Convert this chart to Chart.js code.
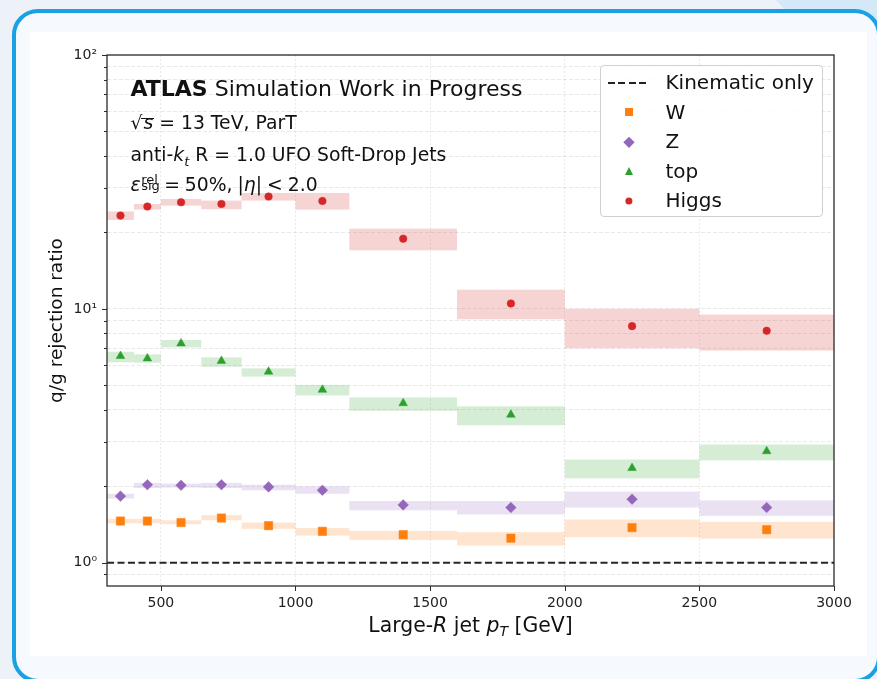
<!DOCTYPE html>
<html>
<head>
<meta charset="utf-8">
<script src="https://cdn.jsdelivr.net/npm/chart.js@4.4.1/dist/chart.umd.min.js"></script>
<style>
html,body{margin:0;padding:0;width:877px;height:679px;overflow:hidden;background:#edf2f8;font-family:"DejaVu Sans",sans-serif;}
#deco{position:absolute;left:0;top:0;width:877px;height:40px;background:#d4e9f8;clip-path:polygon(776px 0,877px 0,877px 40px,812px 40px);}
#frame{position:absolute;left:12px;top:9px;width:869px;height:674px;box-sizing:border-box;border:4px solid #1ba1e2;border-radius:26px;background:#f6f9fd;}
#chart{position:absolute;left:30px;top:32px;background:#fff;}
.txt{position:absolute;color:#111;white-space:nowrap;}
.l1{left:130.5px;top:75.6px;font-size:22px;line-height:25.6px;}
.l2,.l3,.l4{left:130.5px;font-size:18.8px;line-height:21.9px;}
.l2{top:111.85px}.l3{top:144.25px}.l4{top:174.25px;word-spacing:-1px;}
.ov{font-style:italic;position:relative;padding-left:1px;}
.ov::before{content:'';position:absolute;left:-1px;right:-1px;top:6px;border-top:1.3px solid #111;}
.subt{position:relative;font-size:13px;top:4.5px;font-style:italic;}
.ss{display:inline-block;position:relative;width:18.5px;height:1px;}
.ss span{position:absolute;left:0.5px;font-size:13px;line-height:13px;}
.ss .sp{bottom:5.5px}.ss .sb{bottom:-0.5px}
#xtitle{left:107px;width:727px;text-align:center;top:613.8px;font-size:20.4px;line-height:23.7px;}
#xtitle sub{font-size:14px;position:relative;vertical-align:baseline;top:4px;font-style:italic;}
#legend{position:absolute;left:599.5px;top:65px;width:223px;height:152px;box-sizing:border-box;border:1px solid #d0d0d0;border-radius:4px;background:rgba(255,255,255,0.85);}
.lrow{position:absolute;left:0;width:100%;height:29.6px;}
.ltext{position:absolute;left:65px;top:0;font-size:20px;line-height:29.6px;color:#111;white-space:nowrap;}
.lmark{position:absolute;left:28px;top:14.8px;transform:translate(-50%,-50%);}
.ldash{position:absolute;left:7px;width:41px;top:14px;height:2px;background:repeating-linear-gradient(to right,#222 0 7px,transparent 7px 10.5px);}
</style>
</head>
<body>
<div id="deco"></div>
<div id="frame"></div>
<canvas id="chart" width="837" height="624"></canvas>

<div class="txt l1"><b>ATLAS</b> Simulation Work in Progress</div>
<div class="txt l2">√<span class="ov">s</span> = 13 TeV, ParT</div>
<div class="txt l3">anti-<i>k</i><span class="subt">t</span> R = 1.0 UFO Soft-Drop Jets</div>
<div class="txt l4"><i>ε</i><span class="ss"><span class="sp">rel</span><span class="sb">sig</span></span> = 50%, |<i>η</i>| &lt; 2.0</div>
<div class="txt" id="xtitle">Large-<i>R</i> jet <i>p</i><sub>T</sub> [GeV]</div>
<div id="legend"></div>

<script>
// ---- Data ----
const binLow    = [300, 400, 500, 650, 800, 1000, 1200, 1600, 2000, 2500];
const binHigh   = [400, 500, 650, 800, 1000, 1200, 1600, 2000, 2500, 3000];
const binCenter = [350, 450, 575, 725, 900, 1100, 1400, 1800, 2250, 2750];

const wValues = [1.46, 1.46, 1.44, 1.50, 1.40, 1.33, 1.29, 1.25, 1.375, 1.35];
const wLow    = [1.43, 1.43, 1.42, 1.47, 1.36, 1.28, 1.23, 1.17, 1.26, 1.245];
const wHigh   = [1.49, 1.49, 1.47, 1.54, 1.44, 1.37, 1.335, 1.32, 1.48, 1.45];

const zValues = [1.83, 2.03, 2.02, 2.03, 1.99, 1.93, 1.69, 1.65, 1.78, 1.65];
const zLow    = [1.79, 1.97, 1.98, 1.97, 1.93, 1.87, 1.61, 1.55, 1.65, 1.53];
const zHigh   = [1.87, 2.065, 2.05, 2.065, 2.03, 2.00, 1.75, 1.75, 1.905, 1.76];

const topValues = [6.52, 6.38, 7.31, 6.24, 5.66, 4.80, 4.25, 3.83, 2.36, 2.75];
const topLow    = [6.16, 6.14, 7.05, 5.92, 5.41, 4.56, 3.97, 3.48, 2.15, 2.53];
const topHigh   = [6.78, 6.62, 7.54, 6.44, 5.83, 5.02, 4.48, 4.13, 2.55, 2.92];

const higgsValues = [23.3, 25.3, 26.3, 25.9, 27.7, 26.6, 18.9, 10.5, 8.55, 8.2];
const higgsLow    = [22.4, 24.6, 25.5, 24.7, 26.7, 24.6, 17.0, 9.1, 7.0, 6.85];
const higgsHigh   = [24.2, 25.9, 27.1, 26.7, 28.6, 28.6, 20.7, 11.9, 10.0, 9.5];

const kinematicX = [300, 3000];
const kinematicY = [1, 1];
const kinematicLabel = 'Kinematic only';

const xTickValues = [500, 1000, 1500, 2000, 2500, 3000];
const yMajorTicks = [1, 10, 100];
const yTickLabels = ['10⁰', '10¹', '10²'];
const yMinorTicks = [0.9, 2, 3, 4, 5, 6, 7, 8, 9, 20, 30, 40, 50, 60, 70, 80, 90];

const seriesNames  = ['W', 'Z', 'top', 'Higgs'];
const seriesColors = ['#ff7f0e', '#9467bd', '#2ca02c', '#d62728'];

// ---- Build ----
const series = [
  {name: seriesNames[0], color: seriesColors[0], values: wValues, low: wLow, high: wHigh, style: 'rect', radius: 5.9},
  {name: seriesNames[1], color: seriesColors[1], values: zValues, low: zLow, high: zHigh, style: 'rectRot', radius: 5.3},
  {name: seriesNames[2], color: seriesColors[2], values: topValues, low: topLow, high: topHigh, style: 'triangle', radius: 5.0},
  {name: seriesNames[3], color: seriesColors[3], values: higgsValues, low: higgsLow, high: higgsHigh, style: 'circle', radius: 3.8}
];

function rgba(hex, a) {
  const n = parseInt(hex.slice(1), 16);
  return `rgba(${(n >> 16) & 255},${(n >> 8) & 255},${n & 255},${a})`;
}

const bandPlugin = {
  id: 'bands',
  beforeDatasetsDraw(chart) {
    const {ctx, chartArea: a, scales: {x, y}} = chart;
    ctx.save();
    ctx.beginPath();
    ctx.rect(a.left, a.top, a.right - a.left, a.bottom - a.top);
    ctx.clip();
    series.forEach(s => {
      ctx.fillStyle = rgba(s.color, 0.2);
      s.low.forEach((lo, i) => {
        const x0 = x.getPixelForValue(binLow[i]);
        const x1 = x.getPixelForValue(binHigh[i]);
        const y0 = y.getPixelForValue(s.high[i]);
        const y1 = y.getPixelForValue(lo);
        ctx.fillRect(x0, y0, x1 - x0, y1 - y0);
      });
    });
    ctx.restore();
  }
};

const framePlugin = {
  id: 'frameTicks',
  afterDatasetsDraw(chart) {
    const {ctx, chartArea: a, scales: {x, y}} = chart;
    ctx.save();
    ctx.strokeStyle = '#2b2b2b';
    ctx.lineWidth = 1;
    ctx.beginPath();
    y.ticks.forEach(t => {
      const py = Math.round(y.getPixelForValue(t.value)) + 0.5;
      const len = yMajorTicks.includes(t.value) ? 5 : 3;
      ctx.moveTo(a.left - len, py);
      ctx.lineTo(a.left, py);
    });
    x.ticks.forEach(t => {
      const px = Math.round(x.getPixelForValue(t.value)) + 0.5;
      ctx.moveTo(px, a.bottom);
      ctx.lineTo(px, a.bottom + 5);
    });
    ctx.stroke();
    ctx.lineWidth = 1.3;
    ctx.strokeRect(a.left, a.top, a.right - a.left, a.bottom - a.top);
    ctx.restore();
  }
};

const datasets = [
  {
    type: 'line',
    label: kinematicLabel,
    data: kinematicX.map((xv, i) => ({x: xv, y: kinematicY[i]})),
    borderColor: '#262626',
    borderWidth: 1.8,
    borderDash: [7, 3.5],
    pointRadius: 0,
    fill: false
  },
  ...series.map(s => ({
    type: 'scatter',
    label: s.name,
    data: binCenter.map((xv, i) => ({x: xv, y: s.values[i]})),
    pointStyle: s.style,
    pointRadius: s.radius,
    backgroundColor: s.color,
    borderColor: s.color,
    borderWidth: 0.5,
    showLine: false
  }))
];

Chart.defaults.font.family = '"DejaVu Sans", sans-serif';

new Chart(document.getElementById('chart'), {
  type: 'scatter',
  data: {datasets},
  options: {
    responsive: false,
    animation: false,
    events: [],
    devicePixelRatio: 1,
    layout: {padding: {left: 0, top: 23, right: 33, bottom: 0}},
    plugins: {legend: {display: false}, tooltip: {enabled: false}},
    scales: {
      x: {
        type: 'linear',
        min: 300,
        max: 3000,
        afterBuildTicks: s => { s.ticks = xTickValues.map(v => ({value: v})); },
        afterFit: s => { s.height = 70; },
        ticks: {autoSkip: false, maxRotation: 0, padding: 9, font: {size: 14}, color: '#222',
                callback: v => String(v)},
        grid: {color: 'rgba(0,0,0,0.11)', lineWidth: 0.8, drawTicks: false},
        border: {display: false, dash: [2, 2]},
        title: {display: false}
      },
      y: {
        type: 'logarithmic',
        min: 0.81,
        max: 100,
        afterBuildTicks: s => {
          s.ticks = [...yMinorTicks, ...yMajorTicks].sort((a, b) => a - b).map(v => ({value: v}));
        },
        afterFit: s => { s.width = 77; },
        ticks: {autoSkip: false, padding: 10, font: {size: 14}, color: '#222',
                callback: v => { const i = yMajorTicks.indexOf(v); return i >= 0 ? yTickLabels[i] : ''; }},
        grid: {color: 'rgba(0,0,0,0.11)', lineWidth: 0.8, drawTicks: false},
        border: {display: false, dash: [4, 2]},
        title: {display: true, text: 'q/g rejection ratio', font: {size: 18.5}, color: '#111',
                padding: {top: 16, bottom: 0}}
      }
    }
  },
  plugins: [bandPlugin, framePlugin]
});

// ---- HTML legend (built from the same arrays) ----
const legend = document.getElementById('legend');
const rowH = 29.6;
const rows = [{label: kinematicLabel, dash: true}, ...series.map(s => ({label: s.name, s}))];
rows.forEach((r, i) => {
  const row = document.createElement('div');
  row.className = 'lrow';
  row.style.top = (1.9 + i * rowH) + 'px';
  if (r.dash) {
    const d = document.createElement('div');
    d.className = 'ldash';
    row.appendChild(d);
  } else {
    const m = document.createElement('div');
    m.className = 'lmark';
    const c = r.s.color;
    if (r.s.style === 'rect') { m.style.width = '8px'; m.style.height = '8px'; m.style.background = c; }
    else if (r.s.style === 'rectRot') { m.style.width = '7.5px'; m.style.height = '7.5px'; m.style.background = c; m.style.transform = 'translate(-50%,-50%) rotate(45deg)'; }
    else if (r.s.style === 'triangle') { m.style.width = '0'; m.style.height = '0'; m.style.borderLeft = '4.5px solid transparent'; m.style.borderRight = '4.5px solid transparent'; m.style.borderBottom = '8px solid ' + c; }
    else { m.style.width = '7.2px'; m.style.height = '7.2px'; m.style.borderRadius = '50%'; m.style.background = c; }
    row.appendChild(m);
  }
  const t = document.createElement('div');
  t.className = 'ltext';
  t.textContent = r.label;
  row.appendChild(t);
  legend.appendChild(row);
});
</script>
</body>
</html>
